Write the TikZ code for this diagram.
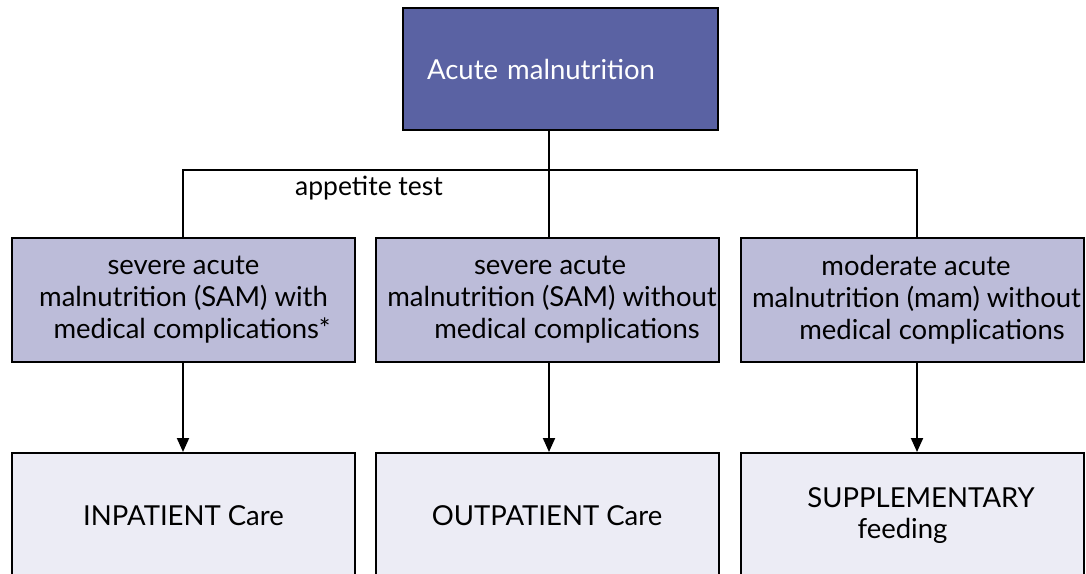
\documentclass[tikz,border=0pt]{standalone}
\usepackage{fontspec}
\setmainfont{Lato}
\usetikzlibrary{arrows.meta}
\definecolor{topblue}{RGB}{90,98,163}
\definecolor{midblue}{RGB}{188,188,217}
\definecolor{lowblue}{RGB}{236,236,245}
\tikzset{
  box/.style={shape=rectangle, draw=black, line width=2pt, inner sep=0pt, align=center, font=\fontsize{27.5}{32}\selectfont},
  kindbox/.style={box, fill=midblue, minimum width=343pt, minimum height=124pt},
  carebox/.style={box, fill=lowblue, minimum width=343pt, minimum height=126pt},
  link/.style={line width=2pt}
}
\begin{document}
\begin{tikzpicture}[x=1pt, y=-1pt]
    \useasboundingbox (0,0) rectangle (1086,573);
    \node[box, fill=topblue, text=white, minimum width=315pt, minimum height=122pt, text width=267pt, align=left] at (560.5,69) (Acute) {Acute malnutrition};
    \node[kindbox] at (183.5,300) (SAMwith) {severe acute\\malnutrition (SAM) with\\\hspace*{17pt}medical complications*};
    \node[kindbox] at (547,300) (SAMwithout) {\hspace*{6pt}severe acute\\\hspace*{10pt}malnutrition (SAM) without\\\hspace*{40pt}medical complications};
    \node[kindbox] at (912.5,300) (MAM) {\hspace*{7pt}moderate acute\\\hspace*{8pt}malnutrition (mam) without\\\hspace*{39pt}medical complications};
    \node[carebox] at (183.5,516) (Inpatient) {INPATIENT Care};
    \node[carebox] at (547,516) (Outpatient) {OUTPATIENT Care};
    \node[carebox] at (912.5,516) (Supplementary) {\hspace*{17pt}SUPPLEMENTARY\\[-1pt]\hspace*{-20pt}feeding};
    \coordinate (split) at (549,170);
    \draw[link] (Acute.south -| split) -- (SAMwithout.north -| split);
    \draw[link] (SAMwith.north -| 183,0) -- (183,170) -- (917,170) -- (MAM.north -| 917,0);
    \node[font=\fontsize{26.5}{30}\selectfont] at (369,188) (appetite) {appetite test};
    \path[link, -{Triangle[width=12pt,length=14pt]}] (SAMwith.south -| 183,0) edge (Inpatient.north -| 183,0);
    \path[link, -{Triangle[width=12pt,length=14pt]}] (SAMwithout.south -| split) edge (Outpatient.north -| split);
    \path[link, -{Triangle[width=12pt,length=14pt]}] (MAM.south -| 917,0) edge (Supplementary.north -| 917,0);
\end{tikzpicture}
\end{document}
